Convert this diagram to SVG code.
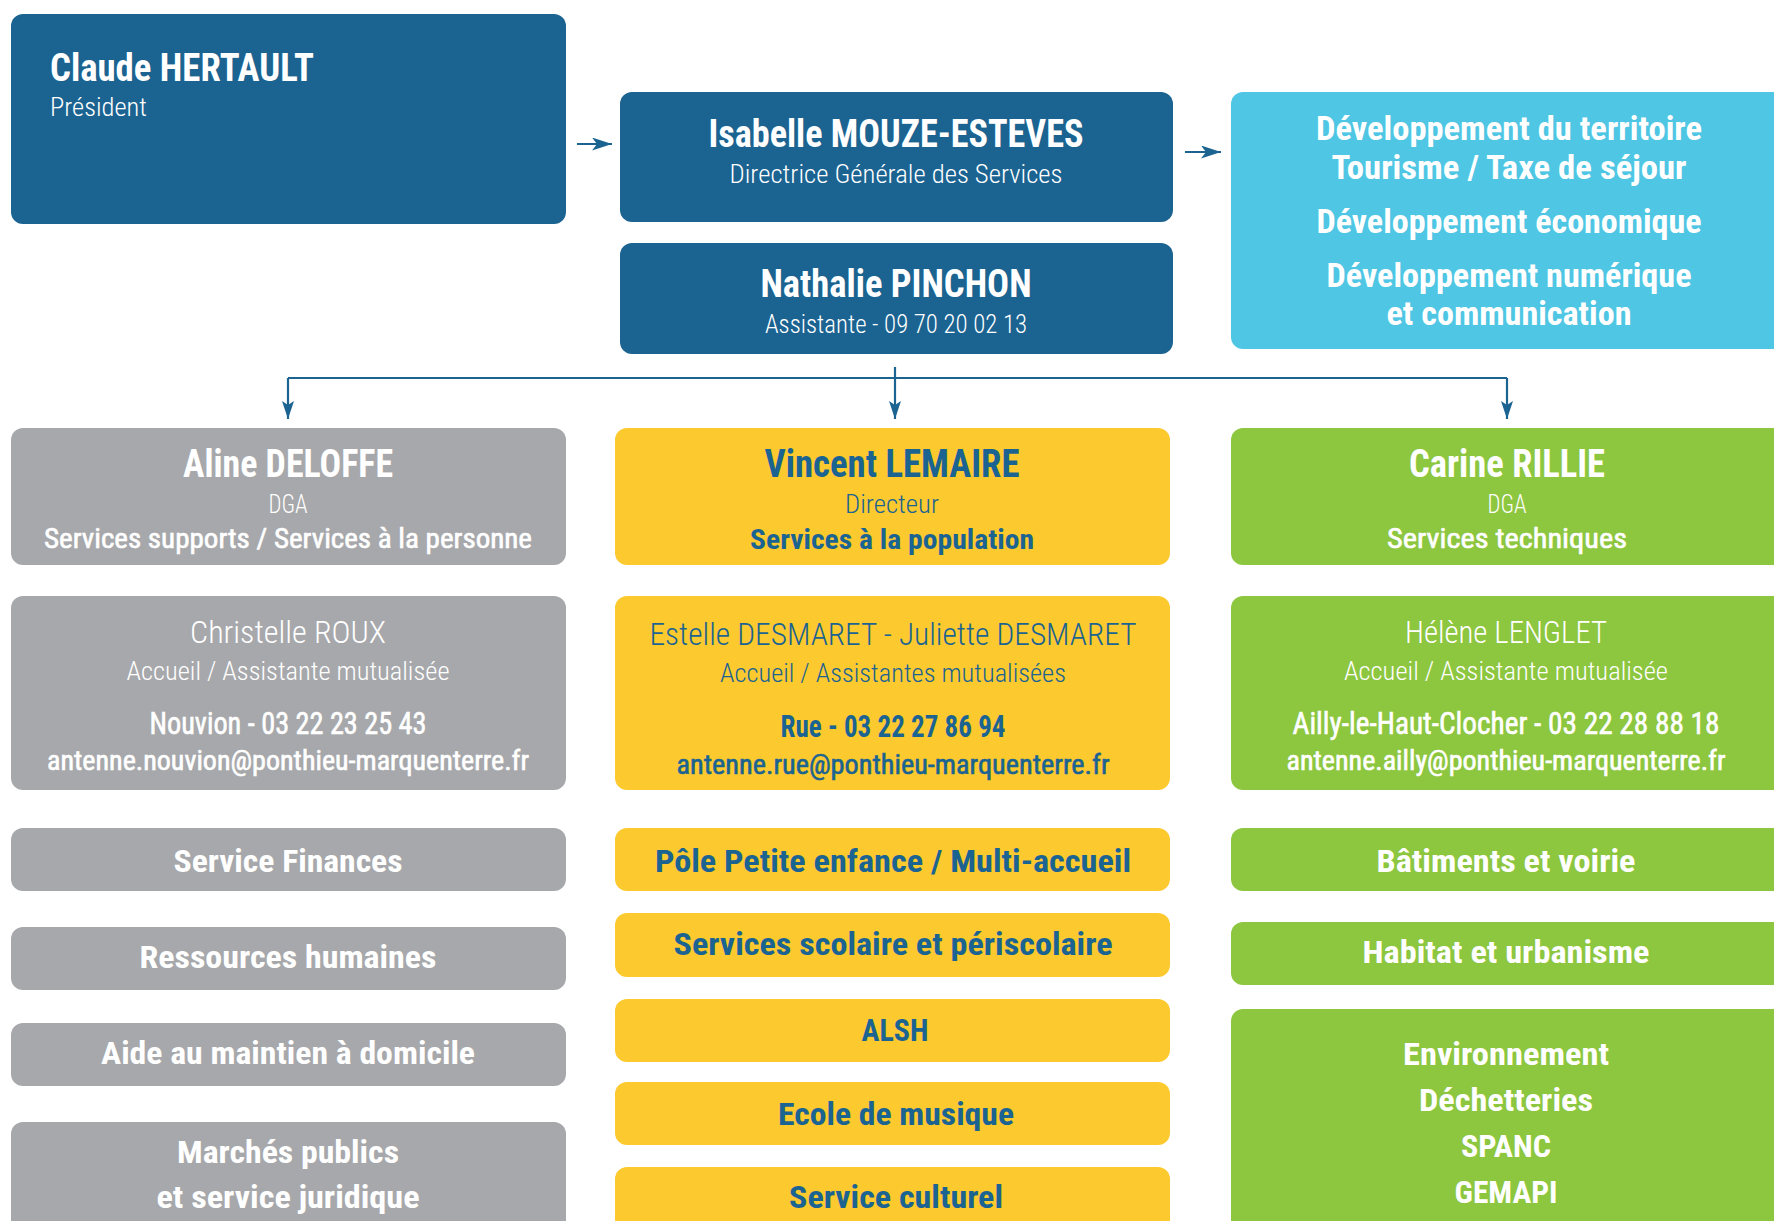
<svg xmlns="http://www.w3.org/2000/svg" width="1774" height="1221" viewBox="0 0 1774 1221">
<style>
text{font-family:'Roboto Condensed','DejaVu Sans Condensed',Roboto,'Liberation Sans',sans-serif;font-weight:700;text-anchor:middle}
.s{text-anchor:start}
.l{font-weight:300}
.r{font-weight:400;stroke-width:0.6px}
.w{fill:#ffffff;stroke:#ffffff;stroke-width:0}
.u{fill:#1b6391;stroke:#1b6391;stroke-width:0}
.w.r,.u.r{stroke-width:0.6px}
.blue{fill:#1b6391}
.cyan{fill:#4fc6e3}
.grey{fill:#a7a8ab}
.yel{fill:#fcca2f}
.grn{fill:#8dc63f}
.f38{font-size:38px}
.f33{font-size:33px}
.f32{font-size:32px}
.f28{font-size:28px}
.f25{font-size:25px}
.conn{fill:none;stroke:#1b6391;stroke-width:2.2}
</style>
<defs>
<marker id="av" markerWidth="18" markerHeight="12" refX="18" refY="6" orient="auto" markerUnits="userSpaceOnUse" viewBox="0 0 18 12">
<path d="M0,0 L18,6 L0,12 L4,6 z" fill="#1b6391"/>
</marker>
<marker id="ah" markerWidth="20" markerHeight="13" refX="20" refY="6.5" orient="auto" markerUnits="userSpaceOnUse" viewBox="0 0 20 13">
<path d="M0,0 L20,6.5 L0,13 L5,6.5 z" fill="#1b6391"/>
</marker>
</defs>

<g id="connectors">
<path class="conn" d="M577,144 H612" marker-end="url(#ah)"/>
<path class="conn" d="M1185,152 H1221" marker-end="url(#ah)"/>
<path class="conn" d="M288,378 H1507"/>
<path class="conn" d="M288,378 V419" marker-end="url(#av)"/>
<path class="conn" d="M895,367 V419" marker-end="url(#av)"/>
<path class="conn" d="M1507,378 V419" marker-end="url(#av)"/>
</g>

<g id="n-hertault">
<rect class="blue" x="11" y="14" width="555" height="210" rx="12"/>
<text class="w f38 s" x="50" y="81" textLength="264" lengthAdjust="spacingAndGlyphs">Claude HERTAULT</text>
<text class="w f25 l s" x="50" y="116" textLength="97" lengthAdjust="spacingAndGlyphs">Président</text>
</g>

<g id="n-mouze">
<rect class="blue" x="620" y="92" width="553" height="130" rx="12"/>
<text class="w f38" x="896" y="147" textLength="375" lengthAdjust="spacingAndGlyphs">Isabelle MOUZE-ESTEVES</text>
<text class="w f25 l" x="896" y="183" textLength="333" lengthAdjust="spacingAndGlyphs">Directrice Générale des Services</text>
</g>

<g id="n-pinchon">
<rect class="blue" x="620" y="243" width="553" height="111" rx="12"/>
<text class="w f38" x="896" y="297" textLength="271" lengthAdjust="spacingAndGlyphs">Nathalie PINCHON</text>
<text class="w f25 l" x="896" y="333" textLength="262" lengthAdjust="spacingAndGlyphs">Assistante - 09 70 20 02 13</text>
</g>

<g id="n-devterritoire">
<rect class="cyan" x="1231" y="92" width="570" height="257" rx="12"/>
<text class="w f33" x="1509" y="140" textLength="386" lengthAdjust="spacingAndGlyphs">Développement du territoire</text>
<text class="w f33" x="1509" y="179" textLength="355" lengthAdjust="spacingAndGlyphs">Tourisme / Taxe de séjour</text>
<text class="w f33" x="1509" y="233" textLength="385" lengthAdjust="spacingAndGlyphs">Développement économique</text>
<text class="w f33" x="1509" y="287" textLength="365" lengthAdjust="spacingAndGlyphs">Développement numérique</text>
<text class="w f33" x="1509" y="325" textLength="245" lengthAdjust="spacingAndGlyphs">et communication</text>
</g>

<g id="n-deloffe">
<rect class="grey" x="11" y="428" width="555" height="137" rx="12"/>
<text class="w f38" x="288" y="477" textLength="210" lengthAdjust="spacingAndGlyphs">Aline DELOFFE</text>
<text class="w f25 l" x="288" y="513" textLength="39" lengthAdjust="spacingAndGlyphs">DGA</text>
<text class="w f28 r" x="288" y="548" textLength="488" lengthAdjust="spacingAndGlyphs">Services supports / Services à la personne</text>
</g>

<g id="n-lemaire">
<rect class="yel" x="615" y="428" width="555" height="137" rx="12"/>
<text class="u f38" x="892" y="477" textLength="255" lengthAdjust="spacingAndGlyphs">Vincent LEMAIRE</text>
<text class="u f25 l" x="892" y="513" textLength="94" lengthAdjust="spacingAndGlyphs">Directeur</text>
<text class="u f28" x="892" y="549" textLength="284" lengthAdjust="spacingAndGlyphs">Services à la population</text>
</g>

<g id="n-rillie">
<rect class="grn" x="1231" y="428" width="570" height="137" rx="12"/>
<text class="w f38" x="1507" y="477" textLength="196" lengthAdjust="spacingAndGlyphs">Carine RILLIE</text>
<text class="w f25 l" x="1507" y="513" textLength="39" lengthAdjust="spacingAndGlyphs">DGA</text>
<text class="w f28 r" x="1507" y="548" textLength="240" lengthAdjust="spacingAndGlyphs">Services techniques</text>
</g>

<g id="n-roux">
<rect class="grey" x="11" y="596" width="555" height="194" rx="12"/>
<text class="w f32 l" x="288" y="643" textLength="196" lengthAdjust="spacingAndGlyphs">Christelle ROUX</text>
<text class="w f25 l" x="288" y="680" textLength="323" lengthAdjust="spacingAndGlyphs">Accueil / Assistante mutualisée</text>
<text class="w f32 r" x="288" y="734" textLength="277" lengthAdjust="spacingAndGlyphs">Nouvion - 03 22 23 25 43</text>
<text class="w f28 r" x="288" y="770" textLength="482" lengthAdjust="spacingAndGlyphs">antenne.nouvion@ponthieu-marquenterre.fr</text>
</g>

<g id="n-desmaret">
<rect class="yel" x="615" y="596" width="555" height="194" rx="12"/>
<text class="u f32 l" x="893" y="645" textLength="487" lengthAdjust="spacingAndGlyphs">Estelle DESMARET - Juliette DESMARET</text>
<text class="u f25 l" x="893" y="682" textLength="346" lengthAdjust="spacingAndGlyphs">Accueil / Assistantes mutualisées</text>
<text class="u f32" x="893" y="737" textLength="225" lengthAdjust="spacingAndGlyphs">Rue - 03 22 27 86 94</text>
<text class="u f28 r" x="893" y="774" textLength="433" lengthAdjust="spacingAndGlyphs">antenne.rue@ponthieu-marquenterre.fr</text>
</g>

<g id="n-lenglet">
<rect class="grn" x="1231" y="596" width="570" height="194" rx="12"/>
<text class="w f32 l" x="1506" y="643" textLength="202" lengthAdjust="spacingAndGlyphs">Hélène LENGLET</text>
<text class="w f25 l" x="1506" y="680" textLength="324" lengthAdjust="spacingAndGlyphs">Accueil / Assistante mutualisée</text>
<text class="w f32 r" x="1506" y="734" textLength="427" lengthAdjust="spacingAndGlyphs">Ailly-le-Haut-Clocher - 03 22 28 88 18</text>
<text class="w f28 r" x="1506" y="770" textLength="439" lengthAdjust="spacingAndGlyphs">antenne.ailly@ponthieu-marquenterre.fr</text>
</g>

<g id="n-finances">
<rect class="grey" x="11" y="828" width="555" height="63" rx="12"/>
<text class="w f32" x="288" y="872" textLength="229" lengthAdjust="spacingAndGlyphs">Service Finances</text>
</g>
<g id="n-rh">
<rect class="grey" x="11" y="927" width="555" height="63" rx="12"/>
<text class="w f32" x="288" y="968" textLength="297" lengthAdjust="spacingAndGlyphs">Ressources humaines</text>
</g>
<g id="n-aide">
<rect class="grey" x="11" y="1023" width="555" height="63" rx="12"/>
<text class="w f32" x="288" y="1064" textLength="374" lengthAdjust="spacingAndGlyphs">Aide au maintien à domicile</text>
</g>
<g id="n-marches">
<rect class="grey" x="11" y="1122" width="555" height="130" rx="12"/>
<text class="w f32" x="288" y="1163" textLength="222" lengthAdjust="spacingAndGlyphs">Marchés publics</text>
<text class="w f32" x="288" y="1208" textLength="263" lengthAdjust="spacingAndGlyphs">et service juridique</text>
</g>

<g id="n-petiteenfance">
<rect class="yel" x="615" y="828" width="555" height="63" rx="12"/>
<text class="u f32" x="893" y="872" textLength="476" lengthAdjust="spacingAndGlyphs">Pôle Petite enfance / Multi-accueil</text>
</g>
<g id="n-scolaire">
<rect class="yel" x="615" y="913" width="555" height="64" rx="12"/>
<text class="u f32" x="893" y="955" textLength="439" lengthAdjust="spacingAndGlyphs">Services scolaire et périscolaire</text>
</g>
<g id="n-alsh">
<rect class="yel" x="615" y="999" width="555" height="63" rx="12"/>
<text class="u f32" x="895" y="1041" textLength="67" lengthAdjust="spacingAndGlyphs">ALSH</text>
</g>
<g id="n-musique">
<rect class="yel" x="615" y="1082" width="555" height="63" rx="12"/>
<text class="u f32" x="896" y="1125" textLength="236" lengthAdjust="spacingAndGlyphs">Ecole de musique</text>
</g>
<g id="n-culturel">
<rect class="yel" x="615" y="1167" width="555" height="90" rx="12"/>
<text class="u f32" x="896" y="1208" textLength="214" lengthAdjust="spacingAndGlyphs">Service culturel</text>
</g>

<g id="n-batiments">
<rect class="grn" x="1231" y="828" width="570" height="63" rx="12"/>
<text class="w f32" x="1506" y="872" textLength="259" lengthAdjust="spacingAndGlyphs">Bâtiments et voirie</text>
</g>
<g id="n-habitat">
<rect class="grn" x="1231" y="922" width="570" height="63" rx="12"/>
<text class="w f32" x="1506" y="963" textLength="287" lengthAdjust="spacingAndGlyphs">Habitat et urbanisme</text>
</g>
<g id="n-environnement">
<rect class="grn" x="1231" y="1009" width="570" height="240" rx="12"/>
<text class="w f32" x="1506" y="1065" textLength="206" lengthAdjust="spacingAndGlyphs">Environnement</text>
<text class="w f32" x="1506" y="1111" textLength="174" lengthAdjust="spacingAndGlyphs">Déchetteries</text>
<text class="w f32" x="1506" y="1157" textLength="90" lengthAdjust="spacingAndGlyphs">SPANC</text>
<text class="w f32" x="1506" y="1203" textLength="103" lengthAdjust="spacingAndGlyphs">GEMAPI</text>
</g>
</svg>
